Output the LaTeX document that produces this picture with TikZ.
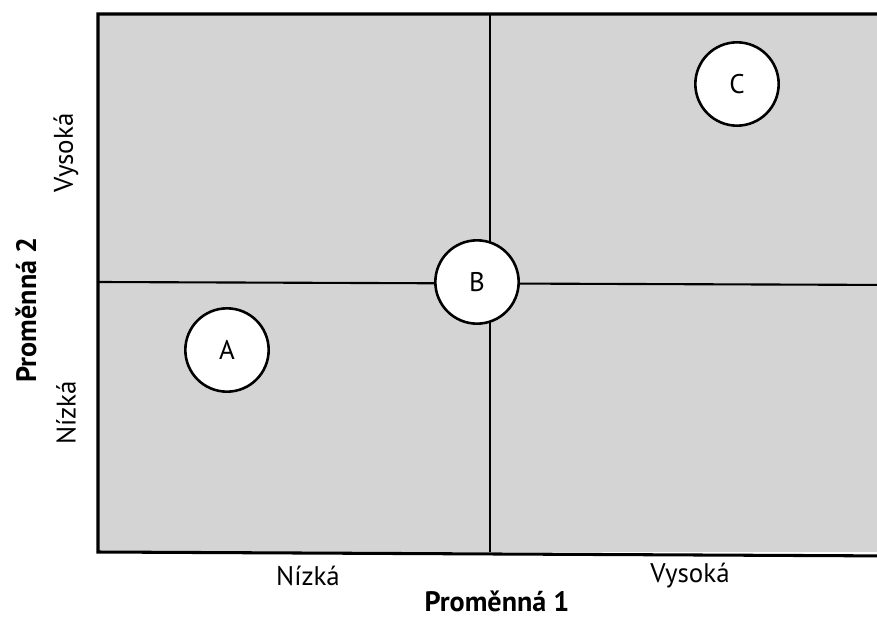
\documentclass[tikz,border=0pt]{standalone}
\usepackage{fontspec}
\setmainfont{PT Sans}

\begin{document}
\begin{tikzpicture}[x=0.03cm, y=-0.03cm,
    every node/.style={font=\fontsize{23}{26}\selectfont},
    quadrant/.style={fill=black!17, draw=none},
    bubble/.style={circle, draw, line width=2.2pt, fill=white, minimum size=2.5cm, inner sep=0pt},
    axis/.style={font=\fontsize{24}{27}\selectfont\bfseries, inner sep=1pt}]
      \useasboundingbox (0, 0) rectangle (877, 620);
      \clip (0, 0) rectangle (877, 620);

      % the four fields
      \fill [quadrant] (98, 14) rectangle (900, 552);
      \draw [line width=1.8pt] (490, 14) -- (490, 552);
      \draw [line width=1.8pt] (98, 282) -- (900, 285);
      \draw [line width=2.6pt] (900, 14) -- (98, 14) -- (98, 552) -- (900, 556);

      \node [bubble] (A) at (227, 350) {A};
      \node [bubble] (B) at (477, 282) {B};
      \node [bubble] (C) at (737, 84) {C};

      % labels on the axes
      \node (x1) at (308, 576) {Nízká};
      \node (x2) at (690, 576) {Vysoká};
      \node [axis] (xname) at (497, 601) {Proměnná 1};

      \node [rotate=90] (y2) at (66, 153) {Vysoká};
      \node [rotate=90] (y1) at (66, 413) {Nízká};
      \node [axis, rotate=90] (yname) at (26, 310) {Proměnná 2};
    \end{tikzpicture}
\end{document}
